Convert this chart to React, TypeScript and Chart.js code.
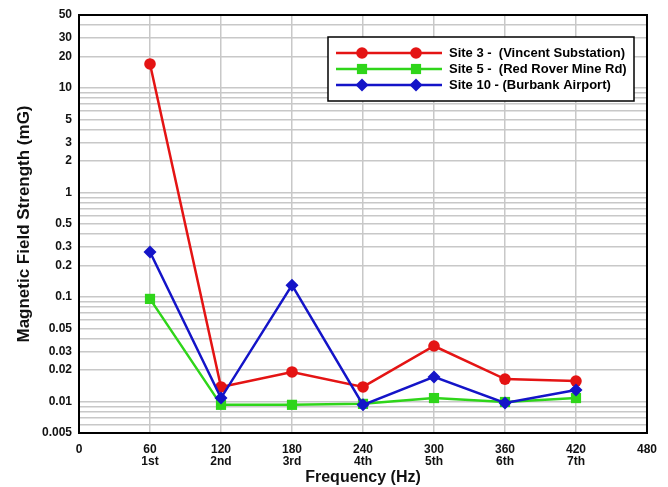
import React, { useEffect, useRef } from "react";
import { Chart, registerables } from "chart.js";

Chart.register(...registerables);

// ---- data ----
const frequencies = [60, 120, 180, 240, 300, 360, 420];
const harmonicLabels = ["1st", "2nd", "3rd", "4th", "5th", "6th", "7th"];

const site3Label = "Site 3 -  (Vincent Substation)";
const site3Values = [17, 0.0138, 0.0192, 0.0138, 0.034, 0.0164, 0.0157];

const site5Label = "Site 5 -  (Red Rover Mine Rd)";
const site5Values = [0.096, 0.0093, 0.0093, 0.0095, 0.0108, 0.0099, 0.0108];

const site10Label = "Site 10 - (Burbank Airport)";
const site10Values = [0.27, 0.0108, 0.13, 0.0093, 0.0172, 0.0097, 0.0129];

const yTickLabels = [50, 30, 20, 10, 5, 3, 2, 1, 0.5, 0.3, 0.2, 0.1, 0.05, 0.03, 0.02, 0.01, 0.005];
const yMin = 0.005;
const yMax = 50;
const xMin = 0;
const xMax = 480;
const xStep = 60;

const xTitle = "Frequency (Hz)";
const yTitle = "Magnetic Field Strength (mG)";

// ---- styles ----
const RED = "#e41414";
const GREEN = "#2fd51a";
const BLUE = "#1414c8";
const FONT = "'Liberation Sans', Arial, Helvetica, sans-serif";

function buildYGrid(): number[] {
  const out: number[] = [];
  for (let e = -3; e <= 1; e++) {
    for (let m = 1; m <= 9; m++) {
      const v = Number((m * Math.pow(10, e)).toPrecision(3));
      if (v >= yMin - 1e-12 && v <= yMax + 1e-9) out.push(v);
    }
  }
  return out;
}

function drawMarker(ctx: CanvasRenderingContext2D, style: string, x: number, y: number, r: number, color: string) {
  ctx.save();
  ctx.fillStyle = color;
  ctx.beginPath();
  if (style === "circle") {
    ctx.arc(x, y, r, 0, Math.PI * 2);
  } else if (style === "rect") {
    const s = r * Math.SQRT1_2;
    ctx.rect(x - s, y - s, 2 * s, 2 * s);
  } else {
    ctx.moveTo(x, y - r);
    ctx.lineTo(x + r, y);
    ctx.lineTo(x, y + r);
    ctx.lineTo(x - r, y);
    ctx.closePath();
  }
  ctx.fill();
  ctx.restore();
}

const framePlugin = {
  id: "frameAndLegend",
  afterDraw(chart: any) {
    const { ctx, chartArea } = chart;
    ctx.save();
    // plot frame
    ctx.strokeStyle = "#000";
    ctx.lineWidth = 2;
    ctx.strokeRect(chartArea.left, chartArea.top, chartArea.right - chartArea.left, chartArea.bottom - chartArea.top);

    // legend box
    const bx = 328, by = 37, bw = 306, bh = 64;
    ctx.fillStyle = "#fff";
    ctx.fillRect(bx, by, bw, bh);
    ctx.lineWidth = 1.5;
    ctx.strokeStyle = "#000";
    ctx.strokeRect(bx, by, bw, bh);

    const rows = [53, 69, 85];
    chart.data.datasets.forEach((ds: any, i: number) => {
      const y = rows[i];
      ctx.strokeStyle = ds.borderColor;
      ctx.lineWidth = 2.5;
      ctx.beginPath();
      ctx.moveTo(336, y);
      ctx.lineTo(442, y);
      ctx.stroke();
      drawMarker(ctx, ds.pointStyle, 362, y, ds.pointRadius, ds.pointBackgroundColor);
      drawMarker(ctx, ds.pointStyle, 416, y, ds.pointRadius, ds.pointBackgroundColor);
      ctx.fillStyle = "#000";
      ctx.font = `bold 13px ${FONT}`;
      ctx.textBaseline = "middle";
      ctx.textAlign = "left";
      ctx.fillText(ds.label, 449, y + 0.5);
    });
    ctx.restore();
  },
};

export default function App() {
  const canvasRef = useRef<HTMLCanvasElement | null>(null);

  useEffect(() => {
    document.body.style.margin = "0";
    const canvas = canvasRef.current!;
    const yGrid = buildYGrid();
    const mk = (label: string, values: number[], color: string, style: string, radius: number, order: number) => ({
      label,
      data: frequencies.map((f, i) => ({ x: f, y: values[i] })),
      borderColor: color,
      backgroundColor: color,
      pointBackgroundColor: color,
      pointBorderColor: color,
      pointBorderWidth: 0,
      pointStyle: style,
      pointRadius: radius,
      borderWidth: 2.5,
      tension: 0,
      order,
    });

    const chart = new Chart(canvas, {
      type: "line",
      data: {
        datasets: [
          mk(site3Label, site3Values, RED, "circle", 5.8, 1),
          mk(site5Label, site5Values, GREEN, "rect", 7.2, 2),
          mk(site10Label, site10Values, BLUE, "rectRot", 6.5, 0),
        ] as any,
      },
      options: {
        responsive: false,
        animation: false,
        devicePixelRatio: 1,
        layout: { padding: { top: 15, right: 18, left: 0, bottom: 0 } },
        plugins: {
          legend: { display: false },
          tooltip: { enabled: false },
        },
        scales: {
          x: {
            type: "linear",
            min: xMin,
            max: xMax,
            afterFit: (scale: any) => {
              scale.height = 54;
            },
            afterBuildTicks: (scale: any) => {
              const t = [];
              for (let v = xMin; v <= xMax; v += xStep) t.push({ value: v });
              scale.ticks = t;
            },
            ticks: {
              autoSkip: false,
              maxRotation: 0,
              padding: 11,
              color: "#111",
              font: { family: FONT, size: 12, weight: "bold", lineHeight: 1 },
              callback: (value: any) => {
                const i = frequencies.indexOf(Number(value));
                return i >= 0 ? [String(value), harmonicLabels[i]] : String(value);
              },
            },
            grid: { color: "#c8c8c8", lineWidth: 1.5, drawTicks: false },
            border: { display: false },
            title: {
              display: true,
              text: xTitle,
              color: "#111",
              font: { family: FONT, size: 16, weight: "bold" },
              padding: { top: 0, bottom: 0 },
            },
          },
          y: {
            type: "logarithmic",
            min: yMin,
            max: yMax,
            afterFit: (scale: any) => {
              scale.width = 79;
            },
            afterBuildTicks: (scale: any) => {
              scale.ticks = yGrid.map((v) => ({ value: v }));
            },
            ticks: {
              autoSkip: false,
              padding: 7,
              color: "#111",
              font: { family: FONT, size: 12, weight: "bold" },
              callback: (value: any) => {
                const v = Number(value);
                const hit = yTickLabels.find((t) => Math.abs(t - v) / t < 1e-6);
                return hit !== undefined ? String(hit) : "";
              },
            },
            grid: { color: "#c8c8c8", lineWidth: 1.5, drawTicks: false },
            border: { display: false },
            title: {
              display: true,
              text: yTitle,
              color: "#111",
              font: { family: FONT, size: 17, weight: "bold" },
              padding: { top: 14, bottom: 0 },
            },
          },
        },
      } as any,
      plugins: [framePlugin],
    });
    return () => chart.destroy();
  }, []);

  return (
    <div style={{ position: "absolute", left: 0, top: 0, width: 668, height: 487, background: "#fff" }}>
      <canvas ref={canvasRef} width={668} height={487} style={{ width: 668, height: 487, display: "block" }} />
    </div>
  );
}
